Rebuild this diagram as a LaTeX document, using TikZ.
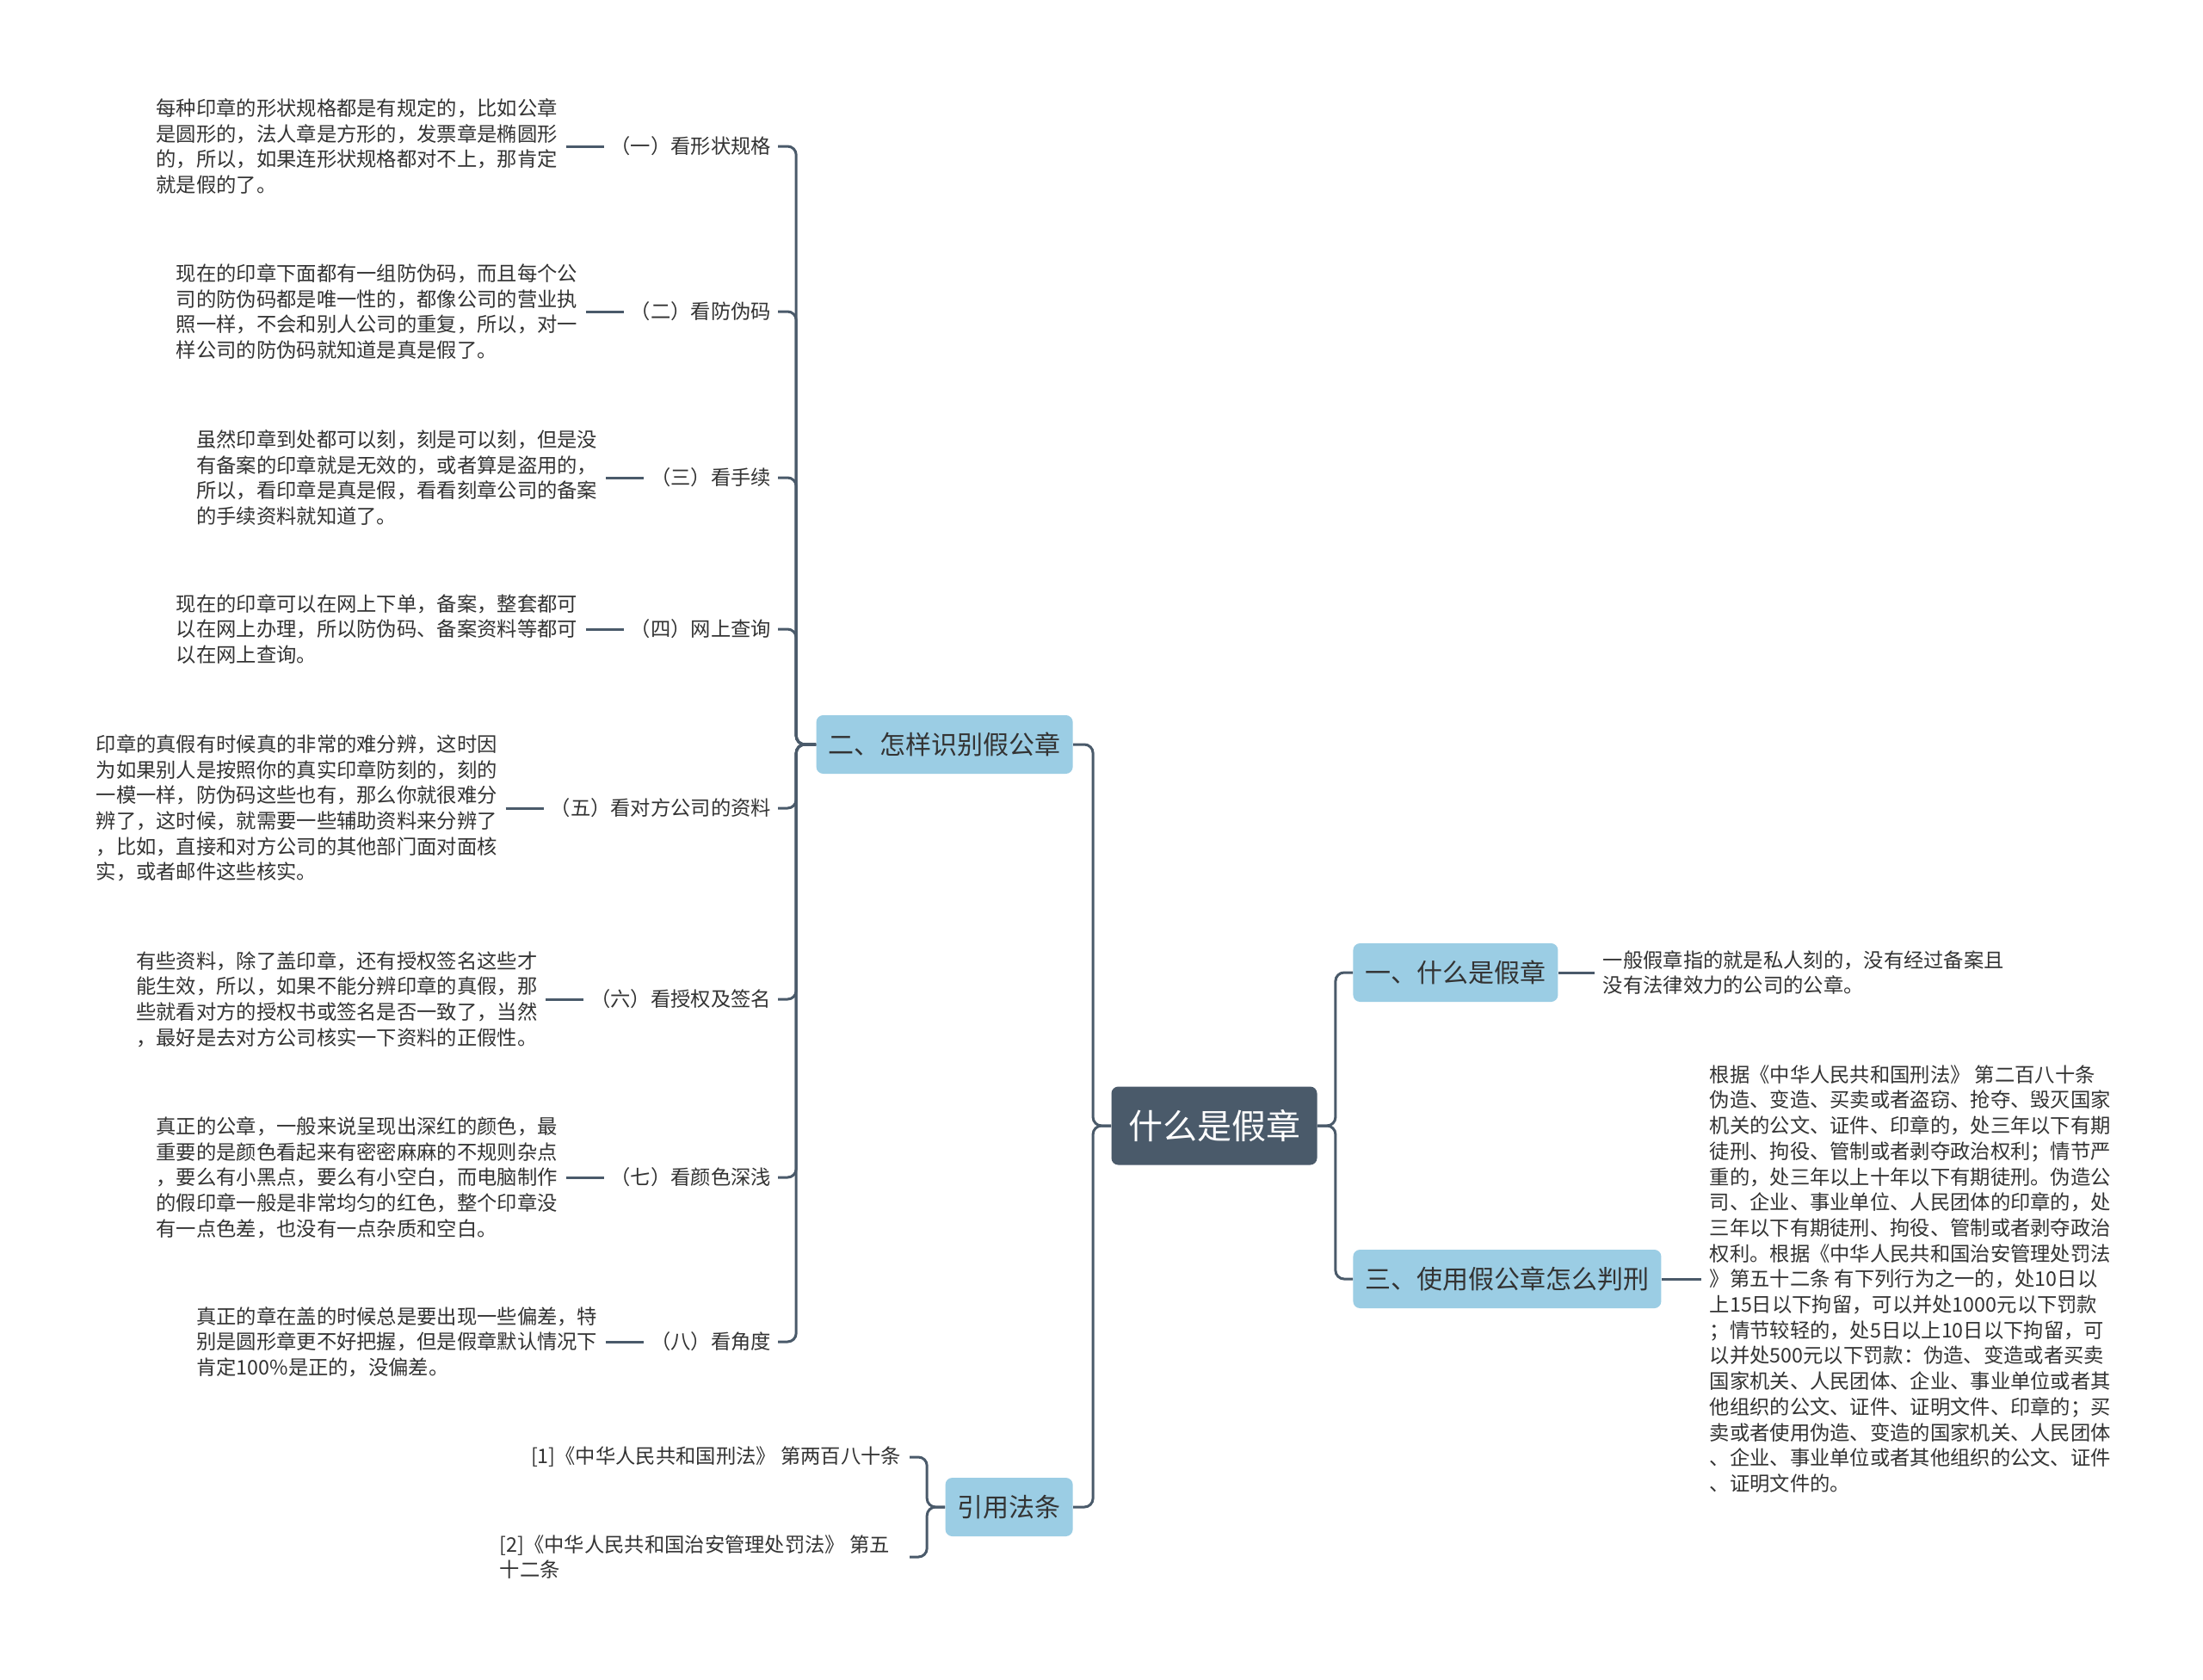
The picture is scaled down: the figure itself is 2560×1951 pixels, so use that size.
\documentclass[tikz,border=0pt]{standalone}
\usepackage{fontspec}
\setmainfont{Noto Sans CJK SC}
\usetikzlibrary{positioning}
\definecolor{dark}{RGB}{74,90,106}
\definecolor{lblue}{RGB}{155,205,228}
\definecolor{txt}{RGB}{51,51,51}
\begin{document}
\begin{tikzpicture}[x=0.5pt,y=-0.5pt,
 conn/.style={draw=dark, line width=1.5pt, rounded corners=5pt},
 tie/.style={draw=dark, line width=1.5pt},
 root/.style={fill=dark, text=white, rounded corners=4pt, font=\fontsize{20pt}{24pt}\selectfont, minimum width=119.5pt, minimum height=45.5pt, inner sep=0pt},
 mainbox/.style={fill=lblue, text=txt, rounded corners=4pt, font=\fontsize{15pt}{18pt}\selectfont, minimum height=34pt, inner xsep=7pt, inner ysep=0pt},
 lab/.style={text=txt, font=\fontsize{11.65pt}{14.85pt}\selectfont, inner sep=0pt, outer xsep=4pt},
 desc/.style={text=txt, font=\fontsize{11.65pt}{14.85pt}\selectfont, inner sep=0pt, outer xsep=5pt, align=left},
]
\useasboundingbox[fill=white] (0,0) rectangle (2560,1951);

% root
\node[root] (c) at (1411,1308) {什么是假章};

% level 1
\node[mainbox, anchor=east] (n2) at (1247,865) {二、怎样识别假公章};
\node[mainbox, anchor=east] (yl) at (1247,1751) {引用法条};
\node[mainbox, anchor=west] (n1) at (1572,1130) {一、什么是假章};
\node[mainbox, anchor=west] (n3) at (1572,1486) {三、使用假公章怎么判刑};

\draw[conn] (c.west) -- ++(-21,0) |- (n2.east);
\draw[conn] (c.west) -- ++(-21,0) |- (yl.east);
\draw[conn] (c.east) -- ++(21,0) |- (n1.west);
\draw[conn] (c.east) -- ++(21,0) |- (n3.west);

% right descriptions
\node[desc, anchor=west, right=21pt of n1] (d1) {一般假章指的就是私人刻的，没有经过备案且\\没有法律效力的公司的公章。};
\draw[tie] (n1.east) -- (d1.west);

\node[desc, anchor=west, right=23pt of n3] (d3) {根据《中华人民共和国刑法》 第二百八十条\\伪造、变造、买卖或者盗窃、抢夺、毁灭国家\\机关的公文、证件、印章的，处三年以下有期\\徒刑、拘役、管制或者剥夺政治权利；情节严\\重的，处三年以上十年以下有期徒刑。伪造公\\司、企业、事业单位、人民团体的印章的，处\\三年以下有期徒刑、拘役、管制或者剥夺政治\\权利。根据《中华人民共和国治安管理处罚法\\》第五十二条 有下列行为之一的，处10日以\\上15日以下拘留，可以并处1000元以下罚款\\；情节较轻的，处5日以上10日以下拘留，可\\以并处500元以下罚款：伪造、变造或者买卖\\国家机关、人民团体、企业、事业单位或者其\\他组织的公文、证件、证明文件、印章的；买\\卖或者使用伪造、变造的国家机关、人民团体\\、企业、事业单位或者其他组织的公文、证件\\、证明文件的。};
\draw[tie] (n3.east) -- (d3.west);

% citations
\node[desc, anchor=east] (r1) at (1057,1693) {[1]《中华人民共和国刑法》 第两百八十条};
\node[desc, anchor=east] (r2) at (1057,1809) {[2]《中华人民共和国治安管理处罚法》 第五\kern6.5pt\\十二条};
\draw[conn] (yl.west) -- ++(-21,0) |- (r1.east);
\draw[conn] (yl.west) -- ++(-21,0) |- (r2.east);

% leaf labels of n2
\node[lab, anchor=east] (l1) at (904,170) {（一）看形状规格};
\node[lab, anchor=east] (l2) at (904,362) {（二）看防伪码};
\node[lab, anchor=east] (l3) at (904,555) {（三）看手续};
\node[lab, anchor=east] (l4) at (904,731) {（四）网上查询};
\node[lab, anchor=east] (l5) at (904,939) {（五）看对方公司的资料};
\node[lab, anchor=east] (l6) at (904,1161) {（六）看授权及签名};
\node[lab, anchor=east] (l7) at (904,1368) {（七）看颜色深浅};
\node[lab, anchor=east] (l8) at (904,1559) {（八）看角度};

\foreach \i in {1,...,8}{\draw[conn] (n2.west) -- ++(-23,0) |- (l\i.east);}

% leaf descriptions
\node[desc, anchor=east, left=22pt of l1] (e1) {每种印章的形状规格都是有规定的，比如公章\\是圆形的，法人章是方形的，发票章是椭圆形\\的，所以，如果连形状规格都对不上，那肯定\\就是假的了。};
\node[desc, anchor=east, left=22pt of l2] (e2) {现在的印章下面都有一组防伪码，而且每个公\\司的防伪码都是唯一性的，都像公司的营业执\\照一样，不会和别人公司的重复，所以，对一\\样公司的防伪码就知道是真是假了。};
\node[desc, anchor=east, left=22pt of l3] (e3) {虽然印章到处都可以刻，刻是可以刻，但是没\\有备案的印章就是无效的，或者算是盗用的，\\所以，看印章是真是假，看看刻章公司的备案\\的手续资料就知道了。};
\node[desc, anchor=east, left=22pt of l4] (e4) {现在的印章可以在网上下单，备案，整套都可\\以在网上办理，所以防伪码、备案资料等都可\\以在网上查询。};
\node[desc, anchor=east, left=22pt of l5] (e5) {印章的真假有时候真的非常的难分辨，这时因\\为如果别人是按照你的真实印章防刻的，刻的\\一模一样，防伪码这些也有，那么你就很难分\\辨了，这时候，就需要一些辅助资料来分辨了\\，比如，直接和对方公司的其他部门面对面核\\实，或者邮件这些核实。};
\node[desc, anchor=east, left=22pt of l6] (e6) {有些资料，除了盖印章，还有授权签名这些才\\能生效，所以，如果不能分辨印章的真假，那\\些就看对方的授权书或签名是否一致了，当然\\，最好是去对方公司核实一下资料的正假性。};
\node[desc, anchor=east, left=22pt of l7] (e7) {真正的公章，一般来说呈现出深红的颜色，最\\重要的是颜色看起来有密密麻麻的不规则杂点\\，要么有小黑点，要么有小空白，而电脑制作\\的假印章一般是非常均匀的红色，整个印章没\\有一点色差，也没有一点杂质和空白。};
\node[desc, anchor=east, left=22pt of l8] (e8) {真正的章在盖的时候总是要出现一些偏差，特\\别是圆形章更不好把握，但是假章默认情况下\\肯定100\%是正的，没偏差。};

\foreach \i in {1,...,8}{\draw[tie] (e\i.east) -- (l\i.west);}
\end{tikzpicture}
\end{document}
